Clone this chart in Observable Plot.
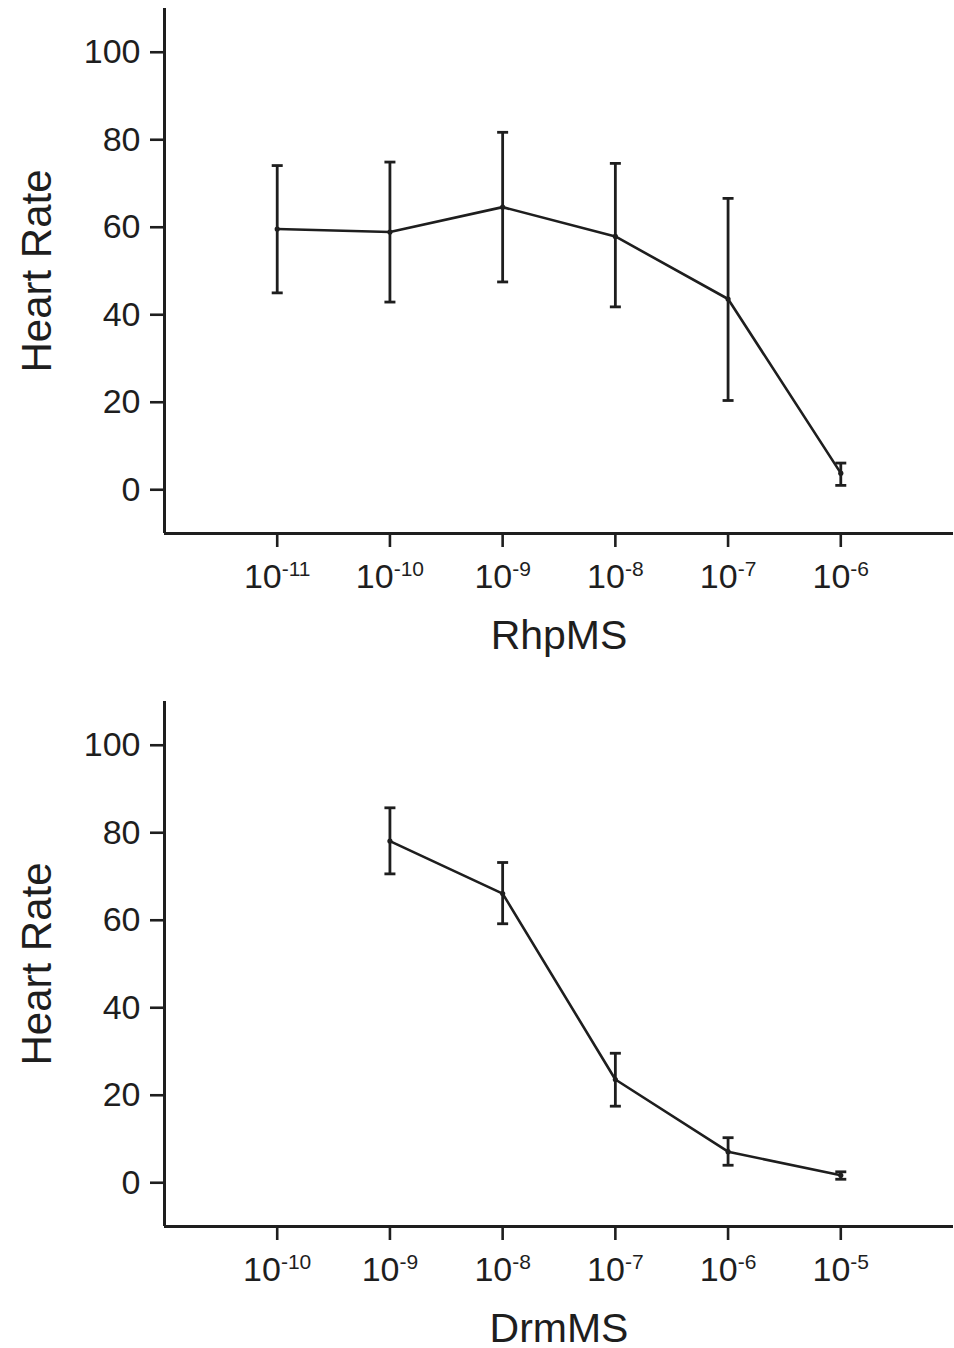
<!DOCTYPE html>
<html>
<head>
<meta charset="utf-8">
<script src="https://cdn.jsdelivr.net/npm/d3@7"></script>
<script src="https://cdn.jsdelivr.net/npm/@observablehq/plot@0.6"></script>
<style>
  html, body { margin: 0; padding: 0; background: #fff; }
  svg { display: block; }
</style>
</head>
<body>
<div id="chart"></div>
<script>
// ---- Data ----
const yTicks = [0, 20, 40, 60, 80, 100];

// Panel 1: RhpMS
const rhpTicks = [-11, -10, -9, -8, -7, -6];     // exponents of 10
const rhpExp   = [-11, -10, -9, -8, -7, -6];
const rhpMean  = [59.6, 58.9, 64.6, 57.9, 43.6, 3.8];
const rhpLow   = [45.0, 42.9, 47.5, 41.8, 20.4, 1.0];
const rhpHigh  = [74.1, 74.9, 81.7, 74.6, 66.6, 6.1];

// Panel 2: DrmMS
const drmTicks = [-10, -9, -8, -7, -6, -5];
const drmExp   = [-9, -8, -7, -6, -5];
const drmMean  = [78.1, 66.1, 23.6, 7.1, 1.7];
const drmLow   = [70.6, 59.2, 17.5, 4.0, 0.8];
const drmHigh  = [85.7, 73.2, 29.6, 10.3, 2.5];

const INK = "#1e1e1e";
const FONT = "'Liberation Sans', Arial, Helvetica, sans-serif";

const capSymbol = {
  draw(ctx) { ctx.moveTo(-5.5, 0); ctx.lineTo(5.5, 0); }
};

function panel({exp, mean, low, high, ticks, xLabel, height, marginTop, marginBottom}) {
  const data = exp.map((e, i) => ({x: e, y: mean[i], lo: low[i], hi: high[i]}));
  const xDomain = [ticks[0] - 1, ticks[ticks.length - 1] + 1];
  const yDomain = [-10, 110];
  const svg = Plot.plot({
    width: 954,
    height,
    marginLeft: 164,
    marginRight: 1,
    marginTop,
    marginBottom,
    style: {fontFamily: FONT, color: INK, background: "#fff", overflow: "visible"},
    x: {domain: xDomain},
    y: {domain: yDomain},
    marks: [
      Plot.axisY({ticks: yTicks, tickSize: 14, tickPadding: 10, fontSize: 34, strokeWidth: 2.6, label: null}),
      Plot.axisX({ticks, tickSize: 14, tickPadding: 16, fontSize: 34, strokeWidth: 2.6, label: null,
                  tickFormat: d => `10^${d}`}),
      Plot.ruleX([xDomain[0]], {y1: yDomain[0], y2: yDomain[1], stroke: INK, strokeWidth: 3}),
      Plot.ruleY([yDomain[0]], {x1: xDomain[0], x2: xDomain[1], stroke: INK, strokeWidth: 3}),
      Plot.ruleX(data, {x: "x", y1: "lo", y2: "hi", stroke: INK, strokeWidth: 2.8}),
      Plot.dot(data, {x: "x", y: "hi", symbol: capSymbol, stroke: INK, strokeWidth: 2.8, fill: "none"}),
      Plot.dot(data, {x: "x", y: "lo", symbol: capSymbol, stroke: INK, strokeWidth: 2.8, fill: "none"}),
      Plot.line(data, {x: "x", y: "y", stroke: INK, strokeWidth: 2.6}),
      Plot.dot(data, {x: "x", y: "y", r: 2.6, fill: INK}),
      Plot.text(["Heart Rate"], {frameAnchor: "left", rotate: -90, dx: -114, fontSize: 42,
                                 textAnchor: "middle", lineAnchor: "bottom", fill: INK}),
      Plot.text([xLabel], {frameAnchor: "bottom", dy: 115, fontSize: 41,
                           textAnchor: "middle", lineAnchor: "bottom", fill: INK})
    ]
  });
  // turn "10^-n" tick labels into 10 with a superscript exponent
  d3.select(svg).selectAll("text").each(function() {
    const t = this.textContent;
    if (!t.includes("^")) return;
    const [base, sup] = t.split("^");
    const sel = d3.select(this);
    sel.text(null);
    sel.append("tspan").text(base);
    sel.append("tspan").attr("dy", -12).attr("font-size", 21).text(sup);
  });
  return svg;
}

const root = document.getElementById("chart");
root.append(panel({exp: rhpExp, mean: rhpMean, low: rhpLow, high: rhpHigh, ticks: rhpTicks,
                   xLabel: "RhpMS", height: 675, marginTop: 8, marginBottom: 142}));
root.append(panel({exp: drmExp, mean: drmMean, low: drmLow, high: drmHigh, ticks: drmTicks,
                   xLabel: "DrmMS", height: 673, marginTop: 26, marginBottom: 122}));
</script>
</body>
</html>
